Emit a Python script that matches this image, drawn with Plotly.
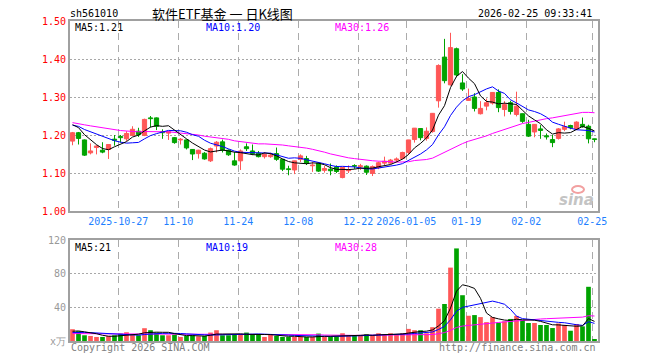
import plotly.graph_objects as go
import pandas as pd

# ---------------- data ----------------
tick_idx = [8, 18, 28, 38, 48, 56, 66, 76, 87]
tick_text = ["2025-10-27", "11-10", "11-24", "12-08", "12-22",
             "2026-01-05", "01-19", "02-02", "02-25"]

opens = [1.184, 1.206, 1.187, 1.153, 1.167, 1.160, 1.162, 1.189, 1.196, 1.190,
         1.199, 1.210, 1.199, 1.245, 1.245, 1.209, 1.205, 1.193, 1.187, 1.187,
         1.162, 1.151, 1.152, 1.132, 1.171, 1.182, 1.160, 1.132, 1.132, 1.169,
         1.158, 1.152, 1.143, 1.143, 1.151, 1.136, 1.111, 1.108, 1.136, 1.138,
         1.119, 1.126, 1.107, 1.110, 1.116, 1.088, 1.106, 1.119, 1.117, 1.118,
         1.099, 1.114, 1.126, 1.126, 1.134, 1.138, 1.154, 1.188, 1.217, 1.191,
         1.209, 1.290, 1.405, 1.332, 1.427, 1.337, 1.291, 1.300, 1.256, 1.276,
         1.284, 1.312, 1.267, 1.285, 1.254, 1.256, 1.228, 1.208, 1.216, 1.198,
         1.188, 1.191, 1.215, 1.225, 1.216, 1.228, 1.223, 1.190]
highs = [1.208, 1.208, 1.188, 1.178, 1.173, 1.181, 1.176, 1.200, 1.200, 1.210,
         1.223, 1.219, 1.243, 1.250, 1.246, 1.215, 1.210, 1.194, 1.192, 1.188,
         1.163, 1.161, 1.155, 1.167, 1.184, 1.188, 1.162, 1.155, 1.162, 1.178,
         1.175, 1.158, 1.154, 1.153, 1.167, 1.137, 1.119, 1.132, 1.149, 1.145,
         1.129, 1.127, 1.119, 1.125, 1.120, 1.116, 1.120, 1.123, 1.124, 1.120,
         1.120, 1.130, 1.143, 1.137, 1.141, 1.156, 1.187, 1.218, 1.217, 1.220,
         1.257, 1.386, 1.453, 1.469, 1.430, 1.360, 1.322, 1.310, 1.289, 1.296,
         1.312, 1.320, 1.289, 1.290, 1.314, 1.256, 1.240, 1.228, 1.226, 1.204,
         1.200, 1.218, 1.235, 1.227, 1.236, 1.246, 1.227, 1.190]
lows = [1.173, 1.175, 1.145, 1.149, 1.149, 1.152, 1.137, 1.172, 1.180, 1.184,
        1.197, 1.195, 1.197, 1.220, 1.213, 1.190, 1.187, 1.177, 1.175, 1.162,
        1.134, 1.138, 1.135, 1.129, 1.154, 1.154, 1.145, 1.119, 1.108, 1.158,
        1.147, 1.141, 1.138, 1.140, 1.132, 1.105, 1.094, 1.097, 1.129, 1.121,
        1.103, 1.103, 1.101, 1.094, 1.100, 1.086, 1.100, 1.111, 1.108, 1.095,
        1.092, 1.110, 1.121, 1.123, 1.128, 1.136, 1.148, 1.180, 1.186, 1.185,
        1.206, 1.272, 1.336, 1.330, 1.352, 1.316, 1.291, 1.262, 1.254, 1.265,
        1.280, 1.260, 1.249, 1.254, 1.249, 1.232, 1.195, 1.194, 1.190, 1.188,
        1.168, 1.188, 1.210, 1.215, 1.213, 1.219, 1.178, 1.181]
closes = [1.206, 1.191, 1.147, 1.158, 1.171, 1.155, 1.175, 1.186, 1.193, 1.204,
          1.215, 1.201, 1.241, 1.243, 1.223, 1.206, 1.209, 1.180, 1.189, 1.166,
          1.150, 1.160, 1.137, 1.164, 1.181, 1.160, 1.148, 1.121, 1.158, 1.164,
          1.151, 1.143, 1.149, 1.147, 1.136, 1.110, 1.109, 1.132, 1.145, 1.126,
          1.121, 1.105, 1.112, 1.106, 1.104, 1.115, 1.108, 1.118, 1.119, 1.102,
          1.117, 1.127, 1.131, 1.134, 1.137, 1.154, 1.187, 1.218, 1.193, 1.210,
          1.257, 1.383, 1.343, 1.430, 1.358, 1.321, 1.296, 1.270, 1.270, 1.285,
          1.312, 1.272, 1.280, 1.262, 1.276, 1.236, 1.197, 1.228, 1.212, 1.195,
          1.180, 1.216, 1.222, 1.219, 1.234, 1.222, 1.190, 1.188]
volumes = [14.0, 11.6, 6.8, 6.0, 4.8, 4.8, 6.0, 6.8, 8.8, 10.4,
           7.7, 6.8, 15.2, 12.8, 10.0, 6.8, 6.8, 7.7, 4.8, 6.0,
           6.8, 5.6, 6.0, 10.0, 12.8, 6.8, 6.8, 7.7, 8.4, 10.0,
           7.7, 7.7, 4.8, 7.7, 6.0, 4.8, 4.8, 4.8, 4.8, 4.8,
           4.8, 8.8, 4.8, 5.2, 5.2, 9.2, 6.4, 6.4, 6.4, 8.0,
           6.4, 9.2, 7.2, 9.2, 7.2, 9.2, 14.4, 12.8, 12.8, 9.2,
           16.4, 38.4, 44.0, 87.2, 110.0, 54.4, 30.0, 30.8, 28.4, 22.4,
           28.4, 21.6, 23.4, 26.2, 29.8, 25.0, 21.4, 21.4, 19.0, 19.0,
           15.4, 20.8, 19.0, 12.2, 20.2, 17.4, 64.4, 2.2]

# sessions before the visible window (estimated so the MA lines start where the reference shows)
closes_before = [1.25, 1.26, 1.24, 1.25, 1.26, 1.25, 1.24, 1.25, 1.24, 1.25,
                 1.23, 1.22, 1.23, 1.24, 1.22, 1.21, 1.22, 1.23, 1.22, 1.21,
                 1.22, 1.23, 1.22, 1.23, 1.22, 1.23, 1.24, 1.23, 1.23]
volumes_before = [8, 9, 8, 7, 8, 9, 8, 8, 9, 8, 8, 9, 8, 8, 8, 9, 8, 8, 8, 8,
                  8, 8, 9, 8, 9, 10, 12, 11, 11]

price_labels = ["MA5:1.21", "MA10:1.20", "MA30:1.26"]
vol_labels = ["MA5:21", "MA10:19", "MA30:28"]

# ---------------- derived ----------------
n = len(closes)
xs = list(range(n))
nb = len(closes_before)
cs = pd.Series(closes_before + closes)
vs = pd.Series(volumes_before + volumes)
ma_c = {w: cs.rolling(w).mean().iloc[nb:].tolist() for w in (5, 10, 30)}
ma_v = {w: vs.rolling(w).mean().iloc[nb:].tolist() for w in (5, 10, 30)}

RED = "#FF5757"
GREEN = "#00A300"
MONO = "DejaVu Sans Mono"
up = [c >= o for o, c in zip(opens, closes)]

fig = go.Figure()

for is_up, col in ((True, RED), (False, GREEN)):
    wx, wy = [], []
    bx, bbase, bh = [], [], []
    vx, vy = [], []
    for i in range(n):
        if up[i] != is_up:
            continue
        wx += [i, i, None]
        wy += [lows[i], highs[i], None]
        bx.append(i)
        bbase.append(min(opens[i], closes[i]))
        bh.append(max(abs(closes[i] - opens[i]), 0.0015))
        vx.append(i)
        vy.append(volumes[i])
    fig.add_trace(go.Scatter(x=wx, y=wy, mode="lines", line=dict(color=col, width=1),
                             xaxis="x", yaxis="y", hoverinfo="skip"))
    fig.add_trace(go.Bar(x=bx, y=bh, base=bbase, width=0.7,
                         marker=dict(color=col, line=dict(color=col, width=1)),
                         xaxis="x", yaxis="y"))
    fig.add_trace(go.Bar(x=vx, y=vy, width=0.78,
                         marker=dict(color=col, line=dict(width=0)),
                         xaxis="x2", yaxis="y2"))

ma_colors = {5: "#000000", 10: "#0000FF", 30: "#FF00FF"}
for w in (30, 10, 5):
    fig.add_trace(go.Scatter(x=xs, y=ma_c[w], mode="lines",
                             line=dict(color=ma_colors[w], width=1),
                             xaxis="x", yaxis="y"))
    fig.add_trace(go.Scatter(x=xs, y=ma_v[w], mode="lines",
                             line=dict(color=ma_colors[w], width=1),
                             xaxis="x2", yaxis="y2"))

# ---------------- layout ----------------
L, R, T, B = 70, 598, 21, 341


def px(p):
    return (p - L) / (R - L)


def py(p):
    return (B - p) / (B - T)


xr = [-0.4167, n - 1 + 0.5833]
grid_x = [i - 0.37 for i in tick_idx]
common_x = dict(range=xr, tickvals=grid_x, showgrid=True, gridcolor="#ababab",
                griddash="7px,5px", gridwidth=1, showline=True, mirror=True,
                linecolor="#a0a0a0", linewidth=2, ticks="", zeroline=False,
                fixedrange=True)

fig.update_layout(
    width=660, height=360,
    margin=dict(l=L, r=660 - R, t=T, b=360 - B),
    paper_bgcolor="white", plot_bgcolor="white",
    showlegend=False, barmode="overlay",
    font=dict(family=MONO, size=10, color="#000"),
    xaxis=dict(common_x, anchor="y", domain=[0, 1], ticktext=tick_text,
               tickfont=dict(family=MONO, size=10, color="#1E7FFF")),
    xaxis2=dict(common_x, anchor="y2", domain=[0, 1], showticklabels=False),
    yaxis=dict(domain=[py(211), 1], range=[1.0, 1.5],
               tickvals=[1.0, 1.1, 1.2, 1.3, 1.4, 1.5],
               ticktext=["1.00", "1.10", "1.20", "1.30", "1.40", "1.50"],
               tickfont=dict(family=MONO, size=10, color="#FF0000"),
               showgrid=True, gridcolor="#a8a8a8", griddash="2px,2px",
               showline=True, mirror=True, linecolor="#a0a0a0", linewidth=2,
               ticks="", zeroline=False, fixedrange=True),
    yaxis2=dict(domain=[0, py(240)], range=[0, 120],
                tickvals=[0, 40, 80, 120], ticktext=["x万", "40", "80", "120"],
                tickfont=dict(family=MONO, size=10, color="#999999"),
                showgrid=True, gridcolor="#a8a8a8", griddash="2px,2px",
                showline=True, mirror=True, linecolor="#a0a0a0", linewidth=2,
                ticks="", zeroline=False, fixedrange=True),
)


def note(text, x, y, anchor="left", color="#000", size=10, family=MONO, **kw):
    fig.add_annotation(text=text, x=px(x), y=py(y), xref="paper", yref="paper",
                       xanchor=anchor, yanchor="middle", showarrow=False,
                       font=dict(family=family, size=size, color=color), **kw)


note("sh561010", 68, 13)
note("软件ETF基金 一 日K线图", 222, 13, anchor="center", size=13,
     family="Noto Sans CJK SC")
note("2026-02-25 09:33:41", 594, 13, anchor="right")

for txt, xpos, col in zip(price_labels, (73, 204, 333), ("#000000", "#0000FF", "#FF00FF")):
    note(txt, xpos, 27, color=col)
for txt, xpos, col in zip(vol_labels, (73, 204, 333), ("#000000", "#0000FF", "#FF00FF")):
    note(txt, xpos, 247, color=col)

note("Copyright 2026 SINA.COM", 69, 347, color="#808080")
note("http://finance.sina.com.cn", 598, 347, anchor="right", color="#808080")

# sina watermark
note("<b><i>sina</i></b>", 596, 200, anchor="right", color="#C4C4C4", size=15,
     family="DejaVu Sans")
fig.add_shape(type="circle", xref="paper", yref="paper",
              x0=px(572), x1=px(584), y0=py(193), y1=py(186),
              line=dict(color="#F2A0A0", width=2))

fig.write_html("out.html")
